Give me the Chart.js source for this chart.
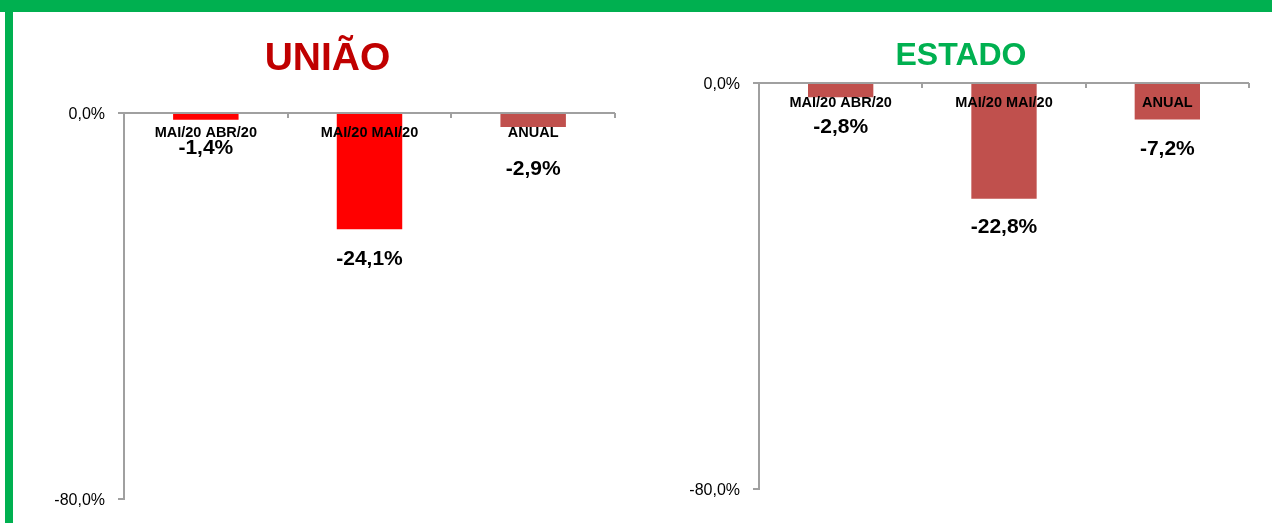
<!DOCTYPE html>
<html>
<head>
<meta charset="utf-8">
<script src="https://cdn.jsdelivr.net/npm/chart.js@4.4.1/dist/chart.umd.min.js"></script>
<style>
  body { margin: 0; background: #fff; width: 1272px; height: 523px; position: relative; overflow: hidden; }
  .borda-topo { position: absolute; left: 0; top: 0; width: 1272px; height: 12px; background: #00B050; }
  .borda-esq { position: absolute; left: 5px; top: 0; width: 8px; height: 523px; background: #00B050; }
  canvas { position: absolute; top: 0; }
  #chartUniao { left: 40px; }
  #chartEstado { left: 673px; }
</style>
</head>
<body>
<div class="borda-topo"></div>
<div class="borda-esq"></div>
<canvas id="chartUniao" width="576" height="523"></canvas>
<canvas id="chartEstado" width="577" height="523"></canvas>
<script>
const categorias = ["MAI/20 ABR/20", "MAI/20 MAI/20", "ANUAL"];
const valoresUniao = [-1.4, -24.1, -2.9];
const valoresEstado = [-2.8, -22.8, -7.2];
const coresUniao = ["#FF0000", "#FF0000", "#C0504D"];
const coresEstado = ["#C0504D", "#C0504D", "#C0504D"];
const eixoMin = -80;
const eixoMax = 0;

const corEixo = "#A0A0A0";
const fonte = "'Liberation Sans', Arial, sans-serif";

function formatar(v) {
  return v.toFixed(1).replace(".", ",") + "%";
}

// rótulos das categorias e dos valores, desenhados a partir das escalas
const rotulosPlugin = {
  id: "rotulos",
  afterDatasetsDraw(chart, args, opts) {
    const ctx = chart.ctx;
    const xs = chart.scales.x;
    const ys = chart.scales.y;
    const zeroY = ys.getPixelForValue(0);
    const valores = chart.data.datasets[0].data;

    ctx.save();
    // marcas do eixo x (divisões entre categorias)
    ctx.strokeStyle = corEixo;
    ctx.lineWidth = 2;
    for (let i = 1; i <= valores.length; i++) {
      let x;
      if (i < valores.length) {
        x = (xs.getPixelForValue(i - 1) + xs.getPixelForValue(i)) / 2;
      } else {
        x = chart.chartArea.right;
      }
      x = Math.round(x);
      ctx.beginPath();
      ctx.moveTo(x, zeroY);
      ctx.lineTo(x, zeroY + 5);
      ctx.stroke();
    }

    ctx.fillStyle = "#000";
    ctx.textAlign = "center";
    ctx.textBaseline = "alphabetic";
    valores.forEach((v, i) => {
      const x = xs.getPixelForValue(i);
      ctx.font = "bold 14.5px " + fonte;
      ctx.fillText(chart.data.labels[i], x, zeroY + 23.7);
      const fim = ys.getPixelForValue(v);
      ctx.font = "bold 21px " + fonte;
      ctx.fillText(formatar(v), x, fim + opts.deslocamentos[i] + 7.5);
    });
    ctx.restore();
  },
};

function criarGrafico(id, titulo, corTitulo, tamTitulo, valores, cores, cfg) {
  const ctx = document.getElementById(id).getContext("2d");
  return new Chart(ctx, {
    type: "bar",
    data: {
      labels: categorias,
      datasets: [
        {
          data: valores,
          backgroundColor: cores,
          borderWidth: 0,
          barPercentage: 0.4,
          categoryPercentage: 1,
        },
      ],
    },
    plugins: [rotulosPlugin],
    options: {
      responsive: false,
      animation: false,
      layout: {
        padding: { top: cfg.padTop, bottom: cfg.padBottom, left: 0, right: 1 },
      },
      plugins: {
        legend: { display: false },
        tooltip: { enabled: false },
        title: {
          display: true,
          text: titulo,
          color: corTitulo,
          font: { family: fonte, size: tamTitulo, weight: "bold", lineHeight: 1.2 },
          padding: { top: 0, bottom: cfg.padTitulo },
        },
        rotulos: { deslocamentos: cfg.deslocamentos },
      },
      scales: {
        x: { display: false },
        y: {
          min: eixoMin,
          max: eixoMax,
          afterFit(scale) {
            scale.width = cfg.larguraY;
            scale.paddingTop = 0;
            scale.paddingBottom = 0;
          },
          ticks: {
            stepSize: 80,
            padding: 13,
            labelOffset: 2,
            color: "#000",
            font: { family: fonte, size: 16 },
            callback: (v) => formatar(v),
          },
          grid: {
            drawOnChartArea: true,
            color: (c) => (c.tick && c.tick.value === 0 ? corEixo : "rgba(0,0,0,0)"),
            tickColor: corEixo,
            tickLength: 6,
            lineWidth: 2,
          },
          border: { display: true, color: corEixo, width: 2 },
        },
      },
    },
  });
}

criarGrafico("chartUniao", "UNIÃO", "#C00000", 39, valoresUniao, coresUniao, {
  padTop: 35.6,
  padTitulo: 30.6,
  padBottom: 24,
  larguraY: 84,
  deslocamentos: [27, 28, 40.5],
});

criarGrafico("chartEstado", "ESTADO", "#00B050", 32, valoresEstado, coresEstado, {
  padTop: 37.3,
  padTitulo: 7.3,
  padBottom: 34,
  larguraY: 86,
  deslocamentos: [28, 27, 28],
});
</script>
</body>
</html>
